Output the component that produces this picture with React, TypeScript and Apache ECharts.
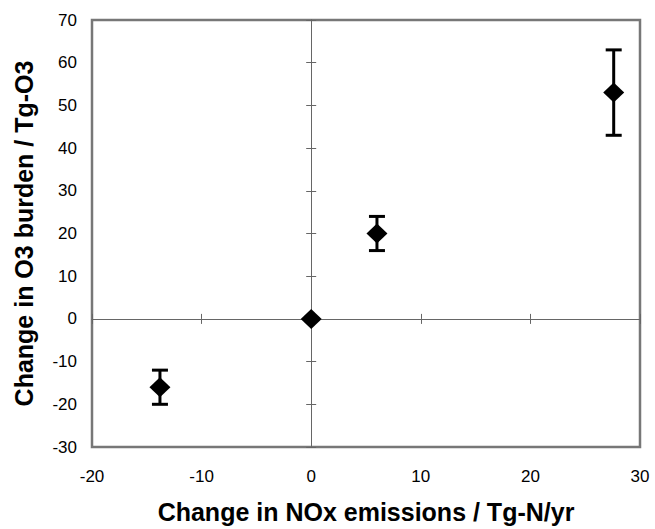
import React, { useEffect, useRef } from "react";
import * as echarts from "echarts";

const xValues = [-13.8, 0, 6, 27.6];
const yValues = [-16, 0, 20, 53];
const errLow = [-20, 0, 16, 43];
const errHigh = [-12, 0, 24, 63];

const xTitle = "Change in NOx emissions / Tg-N/yr";
const yTitle = "Change in O3 burden / Tg-O3";

const FONT = "'Liberation Sans', Arial, Helvetica, sans-serif";

export default function App() {
  const ref = useRef<HTMLDivElement>(null);
  useEffect(() => {
    if (!ref.current) return;
    const chart = echarts.init(ref.current, undefined, { renderer: "svg" });
    const zeroLine = { show: true, onZero: true, onZeroAxisIndex: 0, lineStyle: { color: "#666", width: 1 } };
    const xBase = { type: "value", min: -20, max: 30, interval: 10, splitLine: { show: false } };
    const yBase = { type: "value", min: -30, max: 70, interval: 10, splitLine: { show: false } };
    const points = xValues.map((x, i) => [x, yValues[i]]);
    const bars = xValues.map((x, i) => [x, errLow[i], errHigh[i]]);
    chart.setOption({
      animation: false,
      textStyle: { fontFamily: FONT },
      grid: {
        left: 92,
        top: 20,
        right: 15,
        bottom: 81,
        show: true,
        borderColor: "#777",
        borderWidth: 2.5,
        backgroundColor: "transparent",
      },
      xAxis: [
        {
          ...xBase,
          position: "bottom",
          axisLine: { show: false, onZero: false },
          axisTick: { show: false },
          axisLabel: { fontSize: 17, color: "#000", margin: 21, fontFamily: FONT },
          name: xTitle,
          nameLocation: "middle",
          nameGap: 52,
          nameTextStyle: { fontSize: 25, fontWeight: "bold", color: "#000", fontFamily: FONT },
        },
        {
          ...xBase,
          axisLine: zeroLine,
          axisTick: { show: true, inside: false, length: 5, lineStyle: { color: "#666", width: 1 } },
          axisLabel: { show: false },
        },
        {
          ...xBase,
          axisLine: zeroLine,
          axisTick: { show: true, inside: true, length: 5, lineStyle: { color: "#666", width: 1 } },
          axisLabel: { show: false },
        },
      ],
      yAxis: [
        {
          ...yBase,
          position: "left",
          axisLine: { show: false, onZero: false },
          axisTick: { show: false },
          axisLabel: { fontSize: 17, color: "#000", margin: 15, fontFamily: FONT },
          name: yTitle,
          nameLocation: "middle",
          nameGap: 56,
          nameTextStyle: { fontSize: 25, fontWeight: "bold", color: "#000", fontFamily: FONT },
        },
        {
          ...yBase,
          axisLine: zeroLine,
          axisTick: { show: true, inside: false, length: 5, lineStyle: { color: "#666", width: 1 } },
          axisLabel: { show: false },
        },
        {
          ...yBase,
          axisLine: zeroLine,
          axisTick: { show: true, inside: true, length: 5, lineStyle: { color: "#666", width: 1 } },
          axisLabel: { show: false },
        },
      ],
      series: [
        {
          type: "custom",
          xAxisIndex: 0,
          yAxisIndex: 0,
          data: bars,
          renderItem: (params: any, api: any) => {
            const x = api.value(0);
            const lo = api.value(1);
            const hi = api.value(2);
            if (lo === hi) return { type: "group", children: [] };
            const pLo = api.coord([x, lo]);
            const pHi = api.coord([x, hi]);
            const hw = 8;
            const style = { stroke: "#000", lineWidth: 3 };
            return {
              type: "group",
              children: [
                { type: "line", shape: { x1: pLo[0], y1: pLo[1], x2: pHi[0], y2: pHi[1] }, style },
                { type: "line", shape: { x1: pLo[0] - hw, y1: pLo[1], x2: pLo[0] + hw, y2: pLo[1] }, style },
                { type: "line", shape: { x1: pHi[0] - hw, y1: pHi[1], x2: pHi[0] + hw, y2: pHi[1] }, style },
              ],
            };
          },
          z: 3,
        },
        {
          type: "scatter",
          xAxisIndex: 0,
          yAxisIndex: 0,
          data: points,
          symbol: "diamond",
          symbolSize: [21, 20],
          itemStyle: { color: "#000", opacity: 1 },
          z: 4,
        },
      ],
    });
    return () => chart.dispose();
  }, []);
  return (
    <div
      ref={ref}
      style={{ position: "fixed", left: 0, top: 0, width: 655, height: 529, background: "#fff" }}
    />
  );
}
